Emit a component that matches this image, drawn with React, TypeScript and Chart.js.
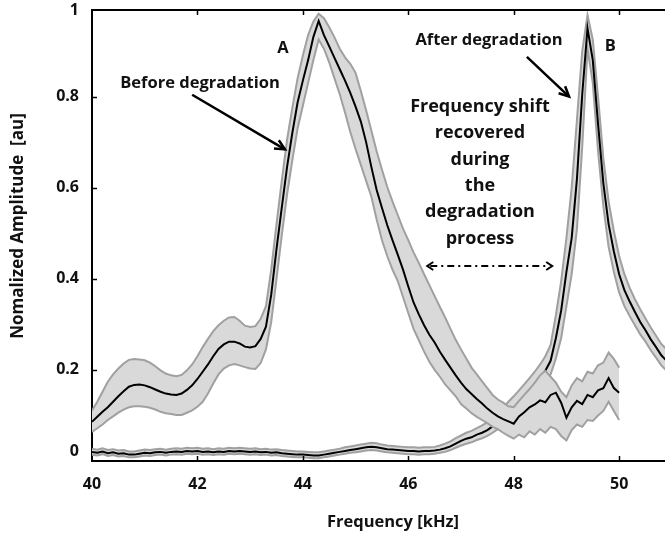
import React, { useEffect, useRef } from 'react';
import { Chart, registerables } from 'chart.js';

Chart.register(...registerables);

// ---------- data ----------
const freqA = [
  40.0, 40.1, 40.2, 40.3, 40.4, 40.5, 40.6, 40.7, 40.8, 40.9,
  41.0, 41.1, 41.2, 41.3, 41.4, 41.5, 41.6, 41.7, 41.8, 41.9,
  42.0, 42.1, 42.2, 42.3, 42.4, 42.5, 42.6, 42.7, 42.8, 42.9,
  43.0, 43.1, 43.2, 43.3, 43.4, 43.5, 43.6, 43.7, 43.8, 43.9,
  44.0, 44.1, 44.2, 44.3, 44.4, 44.5, 44.6, 44.7, 44.8, 44.9,
  45.0, 45.1, 45.2, 45.3, 45.4, 45.5, 45.6, 45.7, 45.8, 45.9,
  46.0, 46.1, 46.2, 46.3, 46.4, 46.5, 46.6, 46.7, 46.8, 46.9,
  47.0, 47.1, 47.2, 47.3, 47.4, 47.5, 47.6, 47.7, 47.8, 47.9,
  48.0, 48.1, 48.2, 48.3, 48.4, 48.5, 48.6, 48.7, 48.8, 48.9,
  49.0, 49.1, 49.2, 49.3, 49.4, 49.5, 49.6, 49.7, 49.8, 49.9,
  50.0,
];

// Before degradation (peak A)
const meanA = [
  0.086, 0.097, 0.108, 0.118, 0.130, 0.142, 0.153, 0.163, 0.167, 0.168,
  0.166, 0.162, 0.157, 0.152, 0.148, 0.146, 0.145, 0.148, 0.156, 0.166,
  0.180, 0.196, 0.212, 0.230, 0.246, 0.256, 0.262, 0.262, 0.258, 0.251,
  0.249, 0.252, 0.268, 0.295, 0.365, 0.465, 0.556, 0.645, 0.720, 0.787,
  0.835, 0.880, 0.931, 0.966, 0.935, 0.910, 0.885, 0.860, 0.835, 0.808,
  0.778, 0.745, 0.700, 0.645, 0.595, 0.556, 0.518, 0.485, 0.453, 0.420,
  0.383, 0.348, 0.322, 0.298, 0.277, 0.260, 0.240, 0.222, 0.205, 0.188,
  0.172, 0.158, 0.147, 0.136, 0.126, 0.115, 0.106, 0.098, 0.092, 0.087,
  0.082, 0.098, 0.107, 0.118, 0.124, 0.133, 0.129, 0.145, 0.150, 0.128,
  0.095, 0.118, 0.132, 0.125, 0.145, 0.140, 0.155, 0.160, 0.182, 0.160,
  0.150,
];
const upperA = [
  0.111, 0.130, 0.152, 0.174, 0.190, 0.203, 0.214, 0.222, 0.224, 0.223,
  0.221, 0.216, 0.208, 0.199, 0.192, 0.188, 0.186, 0.189, 0.199, 0.212,
  0.230, 0.250, 0.268, 0.285, 0.298, 0.308, 0.315, 0.316, 0.308, 0.297,
  0.294, 0.296, 0.312, 0.340, 0.420, 0.520, 0.615, 0.705, 0.775, 0.840,
  0.890, 0.935, 0.965, 0.982, 0.972, 0.952, 0.930, 0.905, 0.886, 0.872,
  0.852, 0.812, 0.770, 0.725, 0.680, 0.640, 0.602, 0.570, 0.540, 0.510,
  0.485, 0.458, 0.435, 0.410, 0.386, 0.362, 0.338, 0.315, 0.290, 0.266,
  0.245, 0.225, 0.205, 0.190, 0.175, 0.160, 0.145, 0.135, 0.128, 0.120,
  0.118, 0.132, 0.145, 0.158, 0.172, 0.188, 0.198, 0.185, 0.172, 0.152,
  0.140, 0.166, 0.182, 0.175, 0.196, 0.192, 0.210, 0.216, 0.238, 0.224,
  0.205,
];
const lowerA = [
  0.064, 0.072, 0.080, 0.090, 0.098, 0.106, 0.113, 0.118, 0.120, 0.120,
  0.119, 0.117, 0.113, 0.108, 0.105, 0.103, 0.101, 0.101, 0.106, 0.111,
  0.119, 0.130, 0.148, 0.170, 0.190, 0.203, 0.210, 0.213, 0.210, 0.206,
  0.203, 0.202, 0.215, 0.245, 0.305, 0.400, 0.495, 0.585, 0.660, 0.730,
  0.780, 0.830, 0.880, 0.925, 0.905, 0.875, 0.840, 0.805, 0.765, 0.722,
  0.685, 0.650, 0.615, 0.580, 0.530, 0.485, 0.450, 0.420, 0.395, 0.360,
  0.325, 0.290, 0.265, 0.240, 0.218, 0.200, 0.185, 0.168, 0.155, 0.142,
  0.125, 0.115, 0.105, 0.097, 0.090, 0.083, 0.075, 0.070, 0.062, 0.055,
  0.049, 0.058, 0.052, 0.065, 0.058, 0.070, 0.062, 0.075, 0.070, 0.055,
  0.045, 0.068, 0.080, 0.075, 0.090, 0.088, 0.100, 0.110, 0.130, 0.110,
  0.090,
];

const freqB = [
  40.0, 40.1, 40.2, 40.3, 40.4, 40.5, 40.6, 40.7, 40.8, 40.9,
  41.0, 41.1, 41.2, 41.3, 41.4, 41.5, 41.6, 41.7, 41.8, 41.9,
  42.0, 42.1, 42.2, 42.3, 42.4, 42.5, 42.6, 42.7, 42.8, 42.9,
  43.0, 43.1, 43.2, 43.3, 43.4, 43.5, 43.6, 43.7, 43.8, 43.9,
  44.0, 44.1, 44.2, 44.3, 44.4, 44.5, 44.6, 44.7, 44.8, 44.9,
  45.0, 45.1, 45.2, 45.3, 45.4, 45.5, 45.6, 45.7, 45.8, 45.9,
  46.0, 46.1, 46.2, 46.3, 46.4, 46.5, 46.6, 46.7, 46.8, 46.9,
  47.0, 47.1, 47.2, 47.3, 47.4, 47.5, 47.6, 47.7, 47.8, 47.9,
  48.0, 48.1, 48.2, 48.3, 48.4, 48.5, 48.6, 48.7, 48.8, 48.9,
  49.0, 49.1, 49.2, 49.3, 49.4, 49.5, 49.6, 49.7, 49.8, 49.9,
  50.0, 50.1, 50.2, 50.3, 50.4, 50.5, 50.6, 50.7, 50.8, 50.9,
];

// After degradation (peak B)
const meanB = [
  0.020, 0.018, 0.021, 0.017, 0.019, 0.016, 0.017, 0.014, 0.014, 0.016,
  0.018, 0.017, 0.019, 0.020, 0.018, 0.020, 0.021, 0.020, 0.022, 0.021,
  0.022, 0.020, 0.021, 0.019, 0.021, 0.020, 0.022, 0.021, 0.022, 0.021,
  0.020, 0.021, 0.019, 0.020, 0.018, 0.019, 0.017, 0.016, 0.015, 0.014,
  0.014, 0.013, 0.012, 0.012, 0.014, 0.016, 0.018, 0.020, 0.022, 0.024,
  0.026, 0.028, 0.030, 0.031, 0.030, 0.028, 0.026, 0.025, 0.024, 0.023,
  0.022, 0.022, 0.021, 0.022, 0.022, 0.023, 0.025, 0.028, 0.032, 0.038,
  0.044, 0.049, 0.052, 0.058, 0.062, 0.068, 0.076, 0.085, 0.095, 0.105,
  0.115, 0.125, 0.138, 0.150, 0.165, 0.180, 0.198, 0.220, 0.270, 0.330,
  0.415, 0.490, 0.620, 0.805, 0.950, 0.880, 0.740, 0.610, 0.520, 0.460,
  0.410, 0.375, 0.350, 0.327, 0.305, 0.287, 0.267, 0.250, 0.232, 0.220,
];
const upperB = [
  0.027, 0.025, 0.028, 0.024, 0.026, 0.023, 0.024, 0.021, 0.021, 0.023,
  0.025, 0.024, 0.026, 0.027, 0.025, 0.027, 0.028, 0.027, 0.029, 0.028,
  0.029, 0.027, 0.028, 0.026, 0.028, 0.027, 0.029, 0.028, 0.029, 0.028,
  0.027, 0.028, 0.026, 0.027, 0.025, 0.026, 0.024, 0.023, 0.022, 0.021,
  0.021, 0.020, 0.019, 0.019, 0.021, 0.023, 0.025, 0.027, 0.030, 0.032,
  0.034, 0.036, 0.038, 0.040, 0.039, 0.036, 0.034, 0.033, 0.032, 0.031,
  0.030, 0.030, 0.029, 0.030, 0.030, 0.031, 0.034, 0.038, 0.043, 0.050,
  0.056, 0.062, 0.066, 0.072, 0.078, 0.085, 0.095, 0.106, 0.118, 0.130,
  0.142, 0.155, 0.168, 0.182, 0.196, 0.212, 0.230, 0.255, 0.320, 0.395,
  0.490, 0.600, 0.750, 0.900, 0.979, 0.925, 0.800, 0.665, 0.570, 0.505,
  0.450, 0.410, 0.380, 0.355, 0.333, 0.313, 0.293, 0.275, 0.257, 0.245,
];
const lowerB = [
  0.014, 0.012, 0.015, 0.011, 0.013, 0.010, 0.011, 0.008, 0.008, 0.010,
  0.012, 0.011, 0.013, 0.014, 0.012, 0.014, 0.015, 0.014, 0.016, 0.015,
  0.016, 0.014, 0.015, 0.013, 0.015, 0.014, 0.016, 0.015, 0.016, 0.015,
  0.014, 0.015, 0.013, 0.014, 0.012, 0.013, 0.011, 0.010, 0.009, 0.008,
  0.008, 0.007, 0.006, 0.006, 0.008, 0.010, 0.012, 0.014, 0.016, 0.018,
  0.019, 0.021, 0.023, 0.024, 0.023, 0.021, 0.019, 0.018, 0.017, 0.016,
  0.015, 0.015, 0.014, 0.015, 0.015, 0.016, 0.018, 0.020, 0.024, 0.029,
  0.034, 0.038, 0.041, 0.046, 0.050, 0.055, 0.062, 0.070, 0.078, 0.086,
  0.095, 0.104, 0.115, 0.126, 0.138, 0.152, 0.170, 0.190, 0.225, 0.270,
  0.340, 0.410, 0.510, 0.690, 0.905, 0.830, 0.680, 0.560, 0.470, 0.415,
  0.370, 0.340, 0.318, 0.298, 0.278, 0.262, 0.243, 0.227, 0.210, 0.198,
];

const xTicks = [40, 42, 44, 46, 48, 50];
const yTicks = [0, 0.2, 0.4, 0.6, 0.8, 0.99];
const yTickLabels = ['0', '0.2', '0.4', '0.6', '0.8', '1'];

const X_MIN = 40;
const X_MAX = 50.87;
const Y_MIN = 0;
const Y_MAX = 0.99;

const FONT = '"Open Sans", Lato, "DejaVu Sans", sans-serif';
const BAND_FILL = '#d9d9d9';
const BAND_EDGE = '#a0a0a0';

const toPts = (xs: number[], ys: number[]) => xs.map((x, i) => ({ x, y: ys[i] }));

// annotation text positions (data coordinates)
const shiftLines = ['Frequency shift', 'recovered', 'during', 'the', 'degradation', 'process'];
const shiftLineY = [0.778, 0.721, 0.662, 0.603, 0.546, 0.487];

const annotationPlugin = {
  id: 'annotations',
  afterDraw(chart: any) {
    const { ctx, chartArea } = chart;
    const xs = chart.scales.x;
    const ys = chart.scales.y;
    const px = (v: number) => xs.getPixelForValue(v);
    const py = (v: number) => ys.getPixelForValue(v);
    ctx.save();

    // top border + inward ticks
    ctx.strokeStyle = '#000';
    ctx.lineWidth = 2;
    ctx.beginPath();
    ctx.moveTo(chartArea.left - 1, chartArea.top);
    ctx.lineTo(chartArea.right, chartArea.top);
    ctx.stroke();
    ctx.lineWidth = 1.5;
    xTicks.forEach((t) => {
      if (t === X_MIN) return;
      const x = Math.round(px(t)) + 0.5;
      ctx.beginPath();
      ctx.moveTo(x, chartArea.bottom);
      ctx.lineTo(x, chartArea.bottom - 5);
      ctx.moveTo(x, chartArea.top);
      ctx.lineTo(x, chartArea.top + 5);
      ctx.stroke();
    });
    yTicks.forEach((t) => {
      if (t === Y_MIN || t === Y_MAX) return;
      const y = Math.round(py(t)) + 0.5;
      ctx.beginPath();
      ctx.moveTo(chartArea.left, y);
      ctx.lineTo(chartArea.left + 5, y);
      ctx.stroke();
    });

    // texts
    ctx.fillStyle = '#111';
    ctx.textAlign = 'center';
    ctx.textBaseline = 'middle';
    ctx.font = `bold 16.5px ${FONT}`;
    ctx.fillText('A', px(43.62), py(0.905));
    ctx.fillText('B', px(49.83), py(0.911));
    ctx.fillText('Before degradation', px(42.05), py(0.83));
    ctx.fillText('After degradation', px(47.53), py(0.924));
    ctx.font = `bold 18px ${FONT}`;
    shiftLines.forEach((s, i) => ctx.fillText(s, px(47.36), py(shiftLineY[i])));

    // arrows
    const arrow = (x1: number, y1: number, x2: number, y2: number) => {
      ctx.strokeStyle = '#000';
      ctx.lineWidth = 2.5;
      ctx.setLineDash([]);
      ctx.beginPath();
      ctx.moveTo(x1, y1);
      ctx.lineTo(x2, y2);
      ctx.stroke();
      const a = Math.atan2(y2 - y1, x2 - x1);
      const h = 11;
      ctx.beginPath();
      ctx.moveTo(x2 - h * Math.cos(a - 0.45), y2 - h * Math.sin(a - 0.45));
      ctx.lineTo(x2, y2);
      ctx.lineTo(x2 - h * Math.cos(a + 0.45), y2 - h * Math.sin(a + 0.45));
      ctx.stroke();
    };
    arrow(px(41.9), py(0.804), px(43.66), py(0.684));
    arrow(px(48.25), py(0.887), px(49.05), py(0.8));

    // dash-dot double arrow
    const ax1 = px(46.36);
    const ax2 = px(48.73);
    const ay = py(0.428);
    ctx.lineWidth = 2;
    ctx.setLineDash([7, 4, 2, 4]);
    ctx.beginPath();
    ctx.moveTo(ax1 + 3, ay);
    ctx.lineTo(ax2 - 3, ay);
    ctx.stroke();
    ctx.setLineDash([]);
    ctx.beginPath();
    ctx.moveTo(ax1 + 6, ay - 4);
    ctx.lineTo(ax1, ay);
    ctx.lineTo(ax1 + 6, ay + 4);
    ctx.moveTo(ax2 - 6, ay - 4);
    ctx.lineTo(ax2, ay);
    ctx.lineTo(ax2 - 6, ay + 4);
    ctx.stroke();

    // axis titles
    ctx.fillStyle = '#111';
    ctx.font = `bold 16.5px ${FONT}`;
    ctx.fillText('Frequency [kHz]', 393, 522);
    ctx.save();
    ctx.translate(18.5, 226);
    ctx.rotate(-Math.PI / 2);
    ctx.font = `bold 17px ${FONT}`;
    ctx.fillText('Nomalized Amplitude  [au]', 0, 0);
    ctx.restore();

    ctx.restore();
  },
};

export default function App() {
  const ref = useRef<HTMLCanvasElement | null>(null);

  useEffect(() => {
    if (!ref.current) return;
    const edge = { borderColor: BAND_EDGE, borderWidth: 2, pointRadius: 0, tension: 0 };
    const chart = new Chart(ref.current, {
      type: 'line',
      data: {
        datasets: [
          { label: 'A upper', data: toPts(freqA, upperA), ...edge, fill: '+1', backgroundColor: BAND_FILL, order: 3 },
          { label: 'A lower', data: toPts(freqA, lowerA), ...edge, fill: false, order: 2 },
          { label: 'A mean', data: toPts(freqA, meanA), borderColor: '#000', borderWidth: 2, pointRadius: 0, tension: 0, fill: false, order: 1 },
          { label: 'B upper', data: toPts(freqB, upperB), ...edge, fill: '+1', backgroundColor: BAND_FILL, order: 6 },
          { label: 'B lower', data: toPts(freqB, lowerB), ...edge, fill: false, order: 5 },
          { label: 'B mean', data: toPts(freqB, meanB), borderColor: '#000', borderWidth: 2, pointRadius: 0, tension: 0, fill: false, order: 4 },
        ],
      },
      options: {
        animation: false,
        responsive: false,
        devicePixelRatio: 1,
        layout: { padding: { top: 10, right: 0, left: 0, bottom: 0 } },
        plugins: { legend: { display: false }, tooltip: { enabled: false } },
        scales: {
          x: {
            type: 'linear',
            min: X_MIN,
            max: X_MAX,
            afterBuildTicks: (scale: any) => {
              scale.ticks = xTicks.map((v) => ({ value: v }));
            },
            afterFit: (scale: any) => {
              scale.height = 75;
              scale.paddingLeft = 0;
              scale.paddingRight = 0;
            },
            grid: { display: false, drawTicks: false },
            border: { display: true, color: '#000', width: 2 },
            ticks: {
              padding: 14,
              color: '#111',
              font: { family: FONT, size: 16, weight: 'bold' },
              callback: (v: any) => String(v),
              maxRotation: 0,
            },
          },
          y: {
            type: 'linear',
            min: Y_MIN,
            max: Y_MAX,
            afterBuildTicks: (scale: any) => {
              scale.ticks = yTicks.map((v) => ({ value: v }));
            },
            afterFit: (scale: any) => {
              scale.width = 92;
              scale.paddingTop = 0;
              scale.paddingBottom = 0;
            },
            grid: { display: false, drawTicks: false },
            border: { display: true, color: '#000', width: 2 },
            ticks: {
              padding: 13,
              color: '#111',
              font: { family: FONT, size: 16, weight: 'bold' },
              callback: (v: any) => {
                const i = yTicks.indexOf(v);
                const lbl = i >= 0 ? yTickLabels[i] : '';
                return v === 0 ? [lbl, ''] : lbl;
              },
            },
          },
        },
      },
      plugins: [annotationPlugin],
    });
    return () => chart.destroy();
  }, []);

  return (
    <div style={{ position: 'absolute', left: 0, top: 0, width: 665, height: 536, background: '#fff' }}>
      <canvas ref={ref} width={665} height={536} style={{ display: 'block', width: 665, height: 536 }} />
    </div>
  );
}
